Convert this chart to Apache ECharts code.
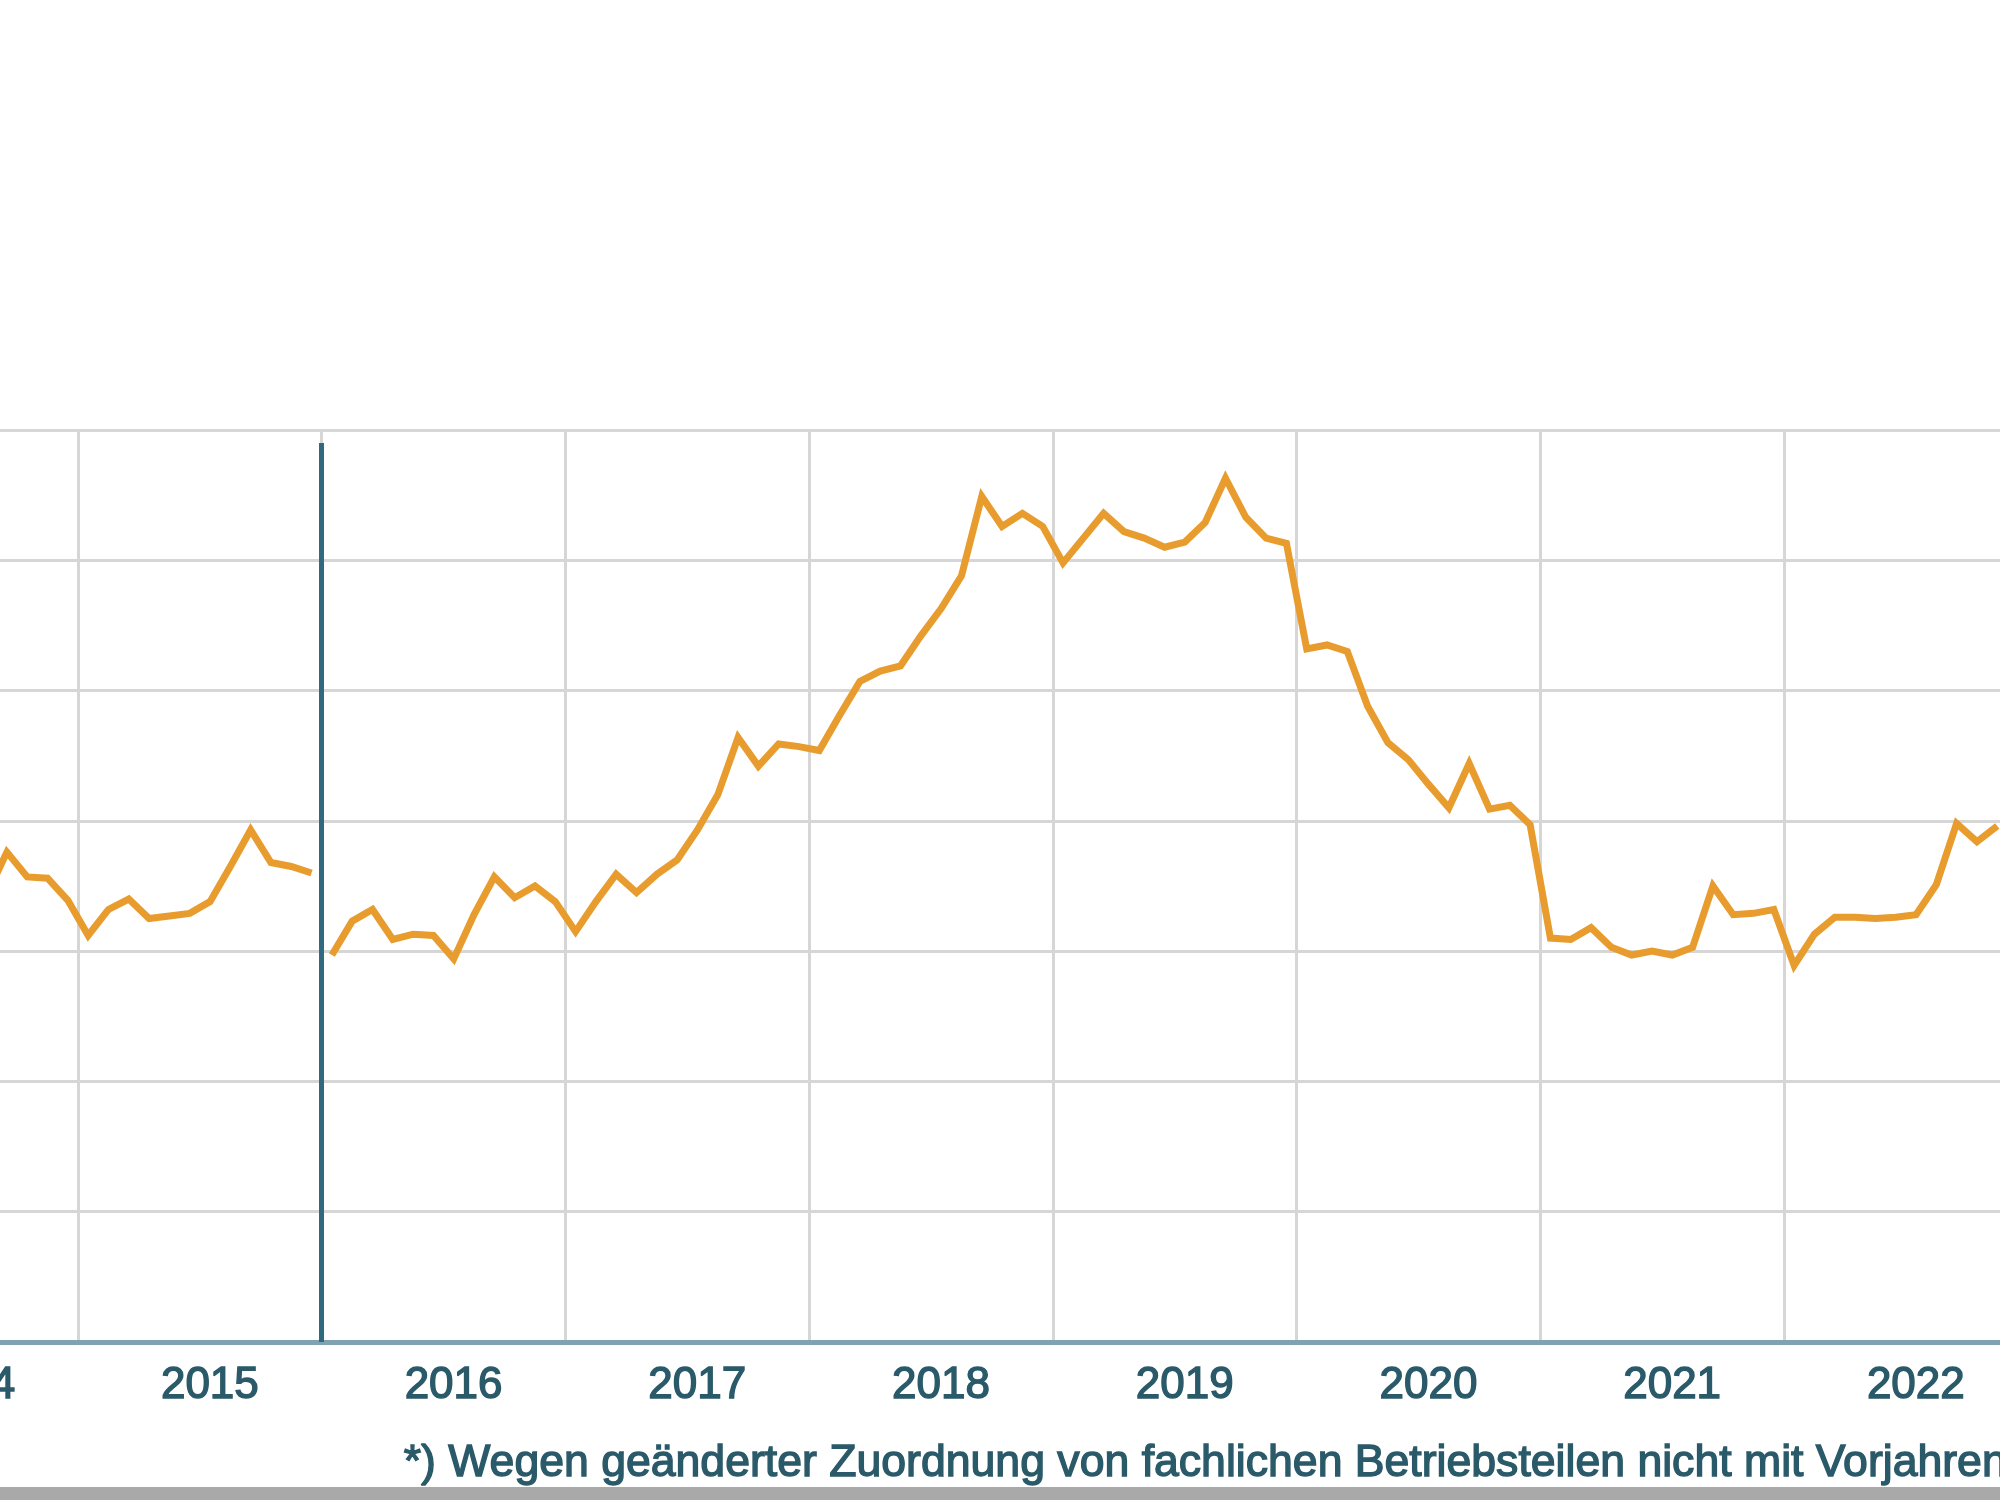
<!DOCTYPE html>
<html>
<head>
<meta charset="utf-8">
<script src="https://cdn.jsdelivr.net/npm/echarts@6/dist/echarts.min.js"></script>
<style>
  html, body { margin: 0; padding: 0; background: #ffffff; }
  #chart { width: 2000px; height: 1500px; }
</style>
</head>
<body>
<div id="chart"></div>
<script>
// ---- data ----
const firstYear = 2014;
const yearLabels = ['2014', '2015', '2016', '2017', '2018', '2019', '2020', '2021', '2022'];

// segment before the break (monthly, starting 2014-08)
const segment1Start = '2014-08';
const segment1Values = [
  343, 376, 357, 356, 339,                                   // 2014 Aug-Dec
  312, 332, 340, 325, 327, 329, 338, 365, 393, 368, 365, 360 // 2015
];

// segment after the break (monthly, starting 2016-01)
const segment2Start = '2016-01';
const segment2Values = [
  297, 323, 332, 309, 313, 312, 294, 328, 357, 341, 350, 338, // 2016
  315, 338, 359, 345, 359, 370, 393, 420, 464, 442, 459, 457, // 2017
  454, 481, 507, 515, 519, 542, 563, 588, 649, 626, 636, 626, // 2018
  598, 617, 636, 622, 617, 610, 614, 629, 663, 633, 617, 613, // 2019
  532, 535, 530, 488, 460, 447, 428, 410, 444, 409, 412, 397, // 2020
  310, 309, 318, 303, 297, 300, 297, 303, 350, 328, 329, 332, // 2021
  289, 313, 326, 326, 325, 326, 328, 351, 398, 384, 396       // 2022 Jan-Nov
];

const breakMonth = '2016-01';
const yMin = 0, yMax = 700, yStep = 100;
const footnote = '*) Wegen geänderter Zuordnung von fachlichen Betriebsteilen nicht mit Vorjahren vergleichbar';

// ---- helpers ----
function monthIndex(s) {
  const parts = s.split('-').map(Number);
  return (parts[0] - firstYear) * 12 + (parts[1] - 1);
}
function toPairs(start, values) {
  const s = monthIndex(start);
  return values.map((v, i) => [s + i + 0.5, v]);
}
const totalMonths = yearLabels.length * 12;
const breakX = monthIndex(breakMonth);

const lineColor = '#e89c2e';
const textColor = '#2a5a69';
const font = 'Liberation Sans, Arial, sans-serif';

const chart = echarts.init(document.getElementById('chart'), null, { renderer: 'canvas' });
chart.setOption({
  animation: false,
  backgroundColor: '#ffffff',
  grid: { left: -165.7, right: -27.7, top: 430, bottom: 158, containLabel: false, outerBoundsMode: 'none' },
  xAxis: [
    {
      type: 'value', min: 0, max: totalMonths, interval: 12, position: 'bottom',
      axisLine: { show: true, onZero: false, lineStyle: { color: '#7fa3b0', width: 5 } },
      axisTick: { show: false },
      axisLabel: { show: false },
      splitLine: { show: true, lineStyle: { color: '#d6d6d6', width: 3 } }
    },
    {
      type: 'category', data: yearLabels, boundaryGap: true, position: 'bottom',
      axisLine: { show: false }, axisTick: { show: false }, splitLine: { show: false },
      axisLabel: {
        interval: 0, color: textColor, fontSize: 44, fontFamily: font,
        textBorderColor: textColor, textBorderWidth: 1.4,
        margin: 22, padding: [0, 0, 0, 20]
      }
    }
  ],
  yAxis: {
    type: 'value', min: yMin, max: yMax, interval: yStep,
    axisLine: { show: false }, axisTick: { show: false }, axisLabel: { show: false },
    splitLine: { show: true, lineStyle: { color: '#d6d6d6', width: 3 } }
  },
  series: [
    {
      type: 'line', xAxisIndex: 0, data: toPairs(segment1Start, segment1Values),
      symbol: 'none', lineStyle: { color: lineColor, width: 7, join: 'miter' },
      itemStyle: { color: lineColor }, z: 3
    },
    {
      type: 'line', xAxisIndex: 0, data: toPairs(segment2Start, segment2Values),
      symbol: 'none', lineStyle: { color: lineColor, width: 7, join: 'miter' },
      itemStyle: { color: lineColor }, z: 3,
      markLine: {
        silent: true, symbol: ['none', 'none'], animation: false,
        label: { show: false },
        lineStyle: { color: '#2f6a80', width: 5, type: 'solid' },
        data: [[{ coord: [breakX, 690] }, { coord: [breakX, yMin] }]]
      }
    }
  ],
  graphic: [
    {
      type: 'text', left: 403, top: 1441, z: 10,
      style: {
        text: footnote, fill: textColor, fontSize: 44.6, fontFamily: font,
        stroke: textColor, lineWidth: 1.4
      }
    },
    {
      type: 'rect', left: 0, top: 1487, z: 11,
      shape: { width: 2000, height: 13 }, style: { fill: '#a9a9a9' }
    }
  ]
});
</script>
</body>
</html>
